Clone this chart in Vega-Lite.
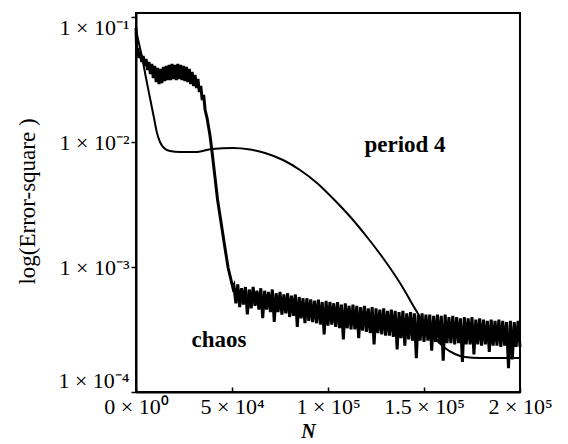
{
  "$schema": "https://vega.github.io/schema/vega-lite/v6.json",
  "autosize": {"type": "none"},
  "width": 384,
  "height": 379,
  "padding": {"left": 136, "top": 13, "right": 48, "bottom": 52},
  "background": "white",
  "config": {
    "view": {"stroke": "black", "strokeWidth": 2},
    "font": "Liberation Serif"
  },
  "datasets": {
    "period4": [
      {"N": 0, "logE": -1.104}, {"N": 2083, "logE": -1.248}, {"N": 3646, "logE": -1.36}, {"N": 5208, "logE": -1.488},
      {"N": 7292, "logE": -1.648}, {"N": 9375, "logE": -1.808}, {"N": 10938, "logE": -1.928}, {"N": 12500, "logE": -2.0},
      {"N": 14583, "logE": -2.048}, {"N": 17708, "logE": -2.072}, {"N": 22917, "logE": -2.08}, {"N": 30729, "logE": -2.08},
      {"N": 39583, "logE": -2.056}, {"N": 50521, "logE": -2.048}, {"N": 59375, "logE": -2.06}, {"N": 67188, "logE": -2.088},
      {"N": 76563, "logE": -2.144}, {"N": 85417, "logE": -2.224}, {"N": 94271, "logE": -2.328}, {"N": 102604, "logE": -2.452},
      {"N": 111458, "logE": -2.596}, {"N": 120313, "logE": -2.76}, {"N": 128646, "logE": -2.928}, {"N": 137500, "logE": -3.128},
      {"N": 146354, "logE": -3.36}, {"N": 150521, "logE": -3.464}, {"N": 155729, "logE": -3.568}, {"N": 160938, "logE": -3.648},
      {"N": 166146, "logE": -3.696}, {"N": 171354, "logE": -3.72}, {"N": 179167, "logE": -3.728}, {"N": 200000, "logE": -3.728}
    ],
    "chaos": [
      {"N": 0, "logE": -1.088}, {"N": 400, "logE": -1.312}, {"N": 1000, "logE": -1.248}, {"N": 1500, "logE": -1.328},
      {"N": 2250, "logE": -1.28}, {"N": 3000, "logE": -1.36}, {"N": 3750, "logE": -1.312}, {"N": 4500, "logE": -1.392},
      {"N": 5250, "logE": -1.336}, {"N": 6000, "logE": -1.424}, {"N": 6750, "logE": -1.36}, {"N": 7500, "logE": -1.456},
      {"N": 8250, "logE": -1.376}, {"N": 9000, "logE": -1.488}, {"N": 9750, "logE": -1.392}, {"N": 10500, "logE": -1.52},
      {"N": 11250, "logE": -1.408}, {"N": 12000, "logE": -1.536}, {"N": 12750, "logE": -1.416}, {"N": 13500, "logE": -1.528},
      {"N": 14250, "logE": -1.4}, {"N": 15000, "logE": -1.512}, {"N": 15750, "logE": -1.392}, {"N": 16500, "logE": -1.504},
      {"N": 17250, "logE": -1.384}, {"N": 18000, "logE": -1.504}, {"N": 18750, "logE": -1.376}, {"N": 19500, "logE": -1.496},
      {"N": 20250, "logE": -1.384}, {"N": 21000, "logE": -1.504}, {"N": 21750, "logE": -1.376}, {"N": 22500, "logE": -1.496},
      {"N": 23250, "logE": -1.384}, {"N": 24000, "logE": -1.504}, {"N": 24750, "logE": -1.392}, {"N": 25500, "logE": -1.512},
      {"N": 26250, "logE": -1.4}, {"N": 27000, "logE": -1.52}, {"N": 27750, "logE": -1.416}, {"N": 28500, "logE": -1.536},
      {"N": 29250, "logE": -1.44}, {"N": 30000, "logE": -1.552}, {"N": 30750, "logE": -1.464}, {"N": 31500, "logE": -1.568},
      {"N": 32250, "logE": -1.496}, {"N": 33000, "logE": -1.6}, {"N": 33750, "logE": -1.552}, {"N": 34500, "logE": -1.664},
      {"N": 35250, "logE": -1.624}, {"N": 36000, "logE": -1.744}, {"N": 37000, "logE": -1.808}, {"N": 38500, "logE": -1.944},
      {"N": 39500, "logE": -2.064}, {"N": 41000, "logE": -2.264}, {"N": 42500, "logE": -2.464}, {"N": 44500, "logE": -2.664},
      {"N": 46500, "logE": -2.864}, {"N": 48000, "logE": -3.008}, {"N": 49500, "logE": -3.104}, {"N": 50500, "logE": -3.168},
      {"N": 51000, "logE": -3.15}, {"N": 52000, "logE": -3.29}, {"N": 53000, "logE": -3.14}, {"N": 54000, "logE": -3.32},
      {"N": 55000, "logE": -3.17}, {"N": 56000, "logE": -3.3}, {"N": 57000, "logE": -3.16}, {"N": 58000, "logE": -3.38},
      {"N": 59000, "logE": -3.18}, {"N": 60000, "logE": -3.33}, {"N": 61000, "logE": -3.16}, {"N": 62000, "logE": -3.31},
      {"N": 63000, "logE": -3.19}, {"N": 64000, "logE": -3.34}, {"N": 65000, "logE": -3.17}, {"N": 66000, "logE": -3.41},
      {"N": 67000, "logE": -3.19}, {"N": 68000, "logE": -3.34}, {"N": 69000, "logE": -3.2}, {"N": 70000, "logE": -3.36},
      {"N": 71000, "logE": -3.18}, {"N": 72000, "logE": -3.44}, {"N": 73000, "logE": -3.21}, {"N": 74000, "logE": -3.36},
      {"N": 75000, "logE": -3.2}, {"N": 76000, "logE": -3.38}, {"N": 77000, "logE": -3.22}, {"N": 78000, "logE": -3.37},
      {"N": 79000, "logE": -3.21}, {"N": 80000, "logE": -3.4}, {"N": 81000, "logE": -3.23}, {"N": 82000, "logE": -3.39},
      {"N": 83000, "logE": -3.22}, {"N": 84000, "logE": -3.48}, {"N": 85000, "logE": -3.24}, {"N": 86000, "logE": -3.41},
      {"N": 87000, "logE": -3.25}, {"N": 88000, "logE": -3.45}, {"N": 89000, "logE": -3.25}, {"N": 90000, "logE": -3.43},
      {"N": 91000, "logE": -3.26}, {"N": 92000, "logE": -3.44}, {"N": 93000, "logE": -3.27}, {"N": 94000, "logE": -3.45},
      {"N": 95000, "logE": -3.26}, {"N": 96000, "logE": -3.46}, {"N": 97000, "logE": -3.28}, {"N": 98000, "logE": -3.54},
      {"N": 99000, "logE": -3.27}, {"N": 100000, "logE": -3.47}, {"N": 101000, "logE": -3.28}, {"N": 102000, "logE": -3.46},
      {"N": 103000, "logE": -3.29}, {"N": 104000, "logE": -3.48}, {"N": 105000, "logE": -3.28}, {"N": 106000, "logE": -3.49},
      {"N": 107000, "logE": -3.3}, {"N": 108000, "logE": -3.58}, {"N": 109000, "logE": -3.29}, {"N": 110000, "logE": -3.49},
      {"N": 111000, "logE": -3.31}, {"N": 112000, "logE": -3.5}, {"N": 113000, "logE": -3.3}, {"N": 114000, "logE": -3.5},
      {"N": 115000, "logE": -3.31}, {"N": 116000, "logE": -3.57}, {"N": 117000, "logE": -3.32}, {"N": 118000, "logE": -3.51},
      {"N": 119000, "logE": -3.31}, {"N": 120000, "logE": -3.52}, {"N": 121000, "logE": -3.33}, {"N": 122000, "logE": -3.53},
      {"N": 123000, "logE": -3.32}, {"N": 124000, "logE": -3.62}, {"N": 125000, "logE": -3.33}, {"N": 126000, "logE": -3.53},
      {"N": 127000, "logE": -3.34}, {"N": 128000, "logE": -3.54}, {"N": 129000, "logE": -3.33}, {"N": 130000, "logE": -3.55},
      {"N": 131000, "logE": -3.35}, {"N": 132000, "logE": -3.55}, {"N": 133000, "logE": -3.34}, {"N": 134000, "logE": -3.56},
      {"N": 135000, "logE": -3.35}, {"N": 136000, "logE": -3.66}, {"N": 137000, "logE": -3.36}, {"N": 138000, "logE": -3.57},
      {"N": 139000, "logE": -3.35}, {"N": 140000, "logE": -3.63}, {"N": 141000, "logE": -3.37}, {"N": 142000, "logE": -3.58},
      {"N": 143000, "logE": -3.36}, {"N": 144000, "logE": -3.59}, {"N": 145000, "logE": -3.37}, {"N": 146000, "logE": -3.73},
      {"N": 147000, "logE": -3.38}, {"N": 148000, "logE": -3.59}, {"N": 149000, "logE": -3.37}, {"N": 150000, "logE": -3.6},
      {"N": 151000, "logE": -3.38}, {"N": 152000, "logE": -3.59}, {"N": 153000, "logE": -3.38}, {"N": 154000, "logE": -3.67},
      {"N": 155000, "logE": -3.39}, {"N": 156000, "logE": -3.6}, {"N": 157000, "logE": -3.38}, {"N": 158000, "logE": -3.61},
      {"N": 159000, "logE": -3.39}, {"N": 160000, "logE": -3.75}, {"N": 161000, "logE": -3.38}, {"N": 162000, "logE": -3.61},
      {"N": 163000, "logE": -3.4}, {"N": 164000, "logE": -3.61}, {"N": 165000, "logE": -3.39}, {"N": 166000, "logE": -3.62},
      {"N": 167000, "logE": -3.4}, {"N": 168000, "logE": -3.61}, {"N": 169000, "logE": -3.41}, {"N": 170000, "logE": -3.76},
      {"N": 171000, "logE": -3.4}, {"N": 172000, "logE": -3.62}, {"N": 173000, "logE": -3.41}, {"N": 174000, "logE": -3.62},
      {"N": 175000, "logE": -3.4}, {"N": 176000, "logE": -3.7}, {"N": 177000, "logE": -3.42}, {"N": 178000, "logE": -3.62},
      {"N": 179000, "logE": -3.41}, {"N": 180000, "logE": -3.63}, {"N": 181000, "logE": -3.42}, {"N": 182000, "logE": -3.62},
      {"N": 183000, "logE": -3.43}, {"N": 184000, "logE": -3.68}, {"N": 185000, "logE": -3.42}, {"N": 186000, "logE": -3.63},
      {"N": 187000, "logE": -3.43}, {"N": 188000, "logE": -3.63}, {"N": 189000, "logE": -3.42}, {"N": 190000, "logE": -3.64},
      {"N": 191000, "logE": -3.43}, {"N": 192000, "logE": -3.63}, {"N": 193000, "logE": -3.44}, {"N": 194000, "logE": -3.81},
      {"N": 195000, "logE": -3.43}, {"N": 196000, "logE": -3.74}, {"N": 197000, "logE": -3.44}, {"N": 198000, "logE": -3.64},
      {"N": 199000, "logE": -3.43}, {"N": 200000, "logE": -3.64}
    ],
    "labels": [
      {"N": 140100, "logE": -2.024, "text": "period  4"},
      {"N": 43200, "logE": -3.584, "text": "chaos"}
    ]
  },
  "encoding": {
    "x": {
      "field": "N", "type": "quantitative",
      "scale": {"domain": [0, 200000], "nice": false, "zero": false},
      "axis": {
        "values": [0, 50000, 100000, 150000, 200000],
        "labelExpr": "datum.value == 0 ? '0 × 10⁰' : datum.value == 50000 ? '5 × 10⁴' : datum.value == 100000 ? '1 × 10⁵' : datum.value == 150000 ? '1.5 × 10⁵' : '2 × 10⁵'",
        "labelFontSize": 22, "labelColor": "black", "labelFlush": false, "labelPadding": 9,
        "tickSize": -5, "tickColor": "black", "tickWidth": 1.5,
        "domainColor": "black", "domainWidth": 2, "grid": false,
        "title": "N", "titleFontSize": 20, "titleFontStyle": "italic", "titleFontWeight": "bold", "titleColor": "black",
        "titleX": 172, "titleY": 39, "titleBaseline": "middle", "titleAlign": "center"
      }
    },
    "y": {
      "field": "logE", "type": "quantitative",
      "scale": {"domain": [-4, -0.968], "nice": false, "zero": false},
      "axis": {
        "values": [-4, -3, -2, -1],
        "labelExpr": "'1 × 10⁻' + ['', '¹', '²', '³', '⁴'][-datum.value]",
        "labelFontSize": 22, "labelColor": "black", "labelFlush": 6, "labelPadding": 2,
        "tickSize": 5, "tickColor": "black", "tickWidth": 1.5,
        "domainColor": "black", "domainWidth": 2, "grid": false,
        "title": "log(Error-square )", "titleFontSize": 23, "titleFontWeight": "normal", "titleColor": "black",
        "titleX": -109, "titleY": 188, "titleAngle": -90, "titleBaseline": "middle", "titleAlign": "center"
      }
    }
  },
  "layer": [
    {
      "data": {"name": "period4"},
      "mark": {"type": "line", "color": "black", "strokeWidth": 2, "interpolate": "monotone"}
    },
    {
      "data": {"name": "chaos"},
      "mark": {"type": "line", "color": "black", "strokeWidth": 3}
    },
    {
      "data": {"name": "labels"},
      "mark": {"type": "text", "color": "black", "fontSize": 23, "fontWeight": "bold", "align": "center", "baseline": "middle", "font": "Liberation Serif"},
      "encoding": {"text": {"field": "text", "type": "nominal"}}
    }
  ]
}
